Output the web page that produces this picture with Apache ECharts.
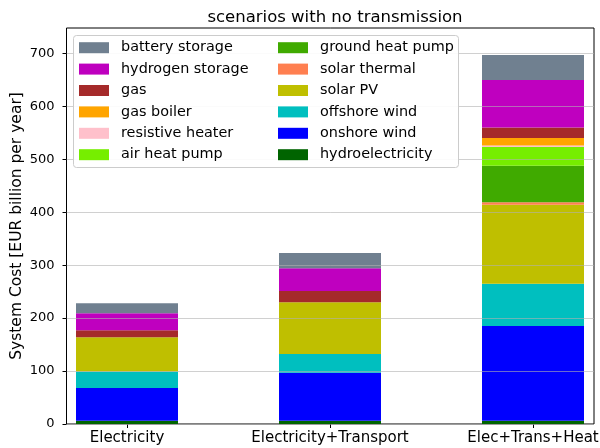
<!DOCTYPE html>
<html>
<head>
<meta charset="utf-8">
<script src="https://cdn.jsdelivr.net/npm/echarts@6/dist/echarts.min.js"></script>
<style>html,body{margin:0;padding:0;background:#fff}#c{width:600px;height:448px}</style>
</head>
<body>
<div id="c"></div>
<script>
var categories = ['Electricity', 'Electricity+Transport', 'Elec+Trans+Heat'];
var hydroelectricity = [6, 6, 6];
var onshoreWind = [62, 91, 179];
var offshoreWind = [31, 35, 80];
var solarPV = [65, 98, 149];
var solarThermal = [0, 0, 5];
var groundHeatPump = [0, 0, 69];
var airHeatPump = [0, 0, 35];
var resistiveHeater = [0, 0, 3];
var gasBoiler = [0, 0, 14];
var gas = [13, 21, 20];
var hydrogenStorage = [32, 43, 90];
var batteryStorage = [19, 29, 47];
var yTicks = [0, 100, 200, 300, 400, 500, 600, 700];

var seriesDefs = [
  ['hydroelectricity', hydroelectricity, '#006400'],
  ['onshore wind', onshoreWind, '#0000ff'],
  ['offshore wind', offshoreWind, '#00bfbf'],
  ['solar PV', solarPV, '#bfbf00'],
  ['solar thermal', solarThermal, '#ff7f50'],
  ['ground heat pump', groundHeatPump, '#40aa00'],
  ['air heat pump', airHeatPump, '#76ee00'],
  ['resistive heater', resistiveHeater, '#ffc0cb'],
  ['gas boiler', gasBoiler, '#ffa500'],
  ['gas', gas, '#a52a2a'],
  ['hydrogen storage', hydrogenStorage, '#bf00bf'],
  ['battery storage', batteryStorage, '#708090']
];
var legend1 = ['battery storage', 'hydrogen storage', 'gas', 'gas boiler', 'resistive heater', 'air heat pump'];
var legend2 = ['ground heat pump', 'solar thermal', 'solar PV', 'offshore wind', 'onshore wind', 'hydroelectricity'];

var FONT = 'DejaVu Sans';
var YMAX = 748;
var series = seriesDefs.map(function (d) {
  return {
    name: d[0], type: 'bar', stack: 'total', barWidth: 102,
    xAxisIndex: 1, yAxisIndex: 1,
    itemStyle: { color: d[2] },
    data: d[1]
  };
});

var legendCommon = {
  orient: 'vertical', top: 40.5, itemWidth: 30, itemHeight: 11, itemGap: 7,
  padding: 0, icon: 'rect', z: 20, selectedMode: false,
  textStyle: { fontFamily: FONT, fontSize: 14.4, color: '#000', padding: [0, 0, 0, 7], lineHeight: 14.4 }
};

var chart = echarts.init(document.getElementById('c'), null, { renderer: 'canvas' });
chart.setOption({
  animation: false,
  backgroundColor: '#fff',
  title: {
    text: 'scenarios with no transmission', left: 330, top: 4, textAlign: 'center',
    textStyle: { fontFamily: FONT, fontSize: 16.5, fontWeight: 'normal', color: '#000' }
  },
  grid: [
    { left: 66.5, right: 6, top: 28, bottom: 24, show: true, borderColor: '#000', borderWidth: 1, containLabel: false, outerBoundsMode: 'none' },
    { left: 25.5, width: 609, top: 28, bottom: 24, containLabel: false, outerBoundsMode: 'none' }
  ],
  legend: [
    Object.assign({}, legendCommon, { left: 79, data: legend1 }),
    Object.assign({}, legendCommon, { left: 278, data: legend2 })
  ],
  graphic: [{
    type: 'rect', z: 15,
    shape: { x: 73.5, y: 35.5, width: 385, height: 132, r: 3 },
    style: { fill: 'rgba(255,255,255,0.9)', stroke: '#cccccc', lineWidth: 1 }
  }],
  xAxis: [
    { type: 'category', gridIndex: 0, data: categories, show: false },
    {
      type: 'category', gridIndex: 1, data: categories,
      axisLine: { show: false },
      splitLine: { show: false },
      axisTick: { show: true, alignWithLabel: true, length: 4, lineStyle: { color: '#000' } },
      axisLabel: { margin: 7, fontFamily: FONT, fontSize: 15, color: '#000', interval: 0 }
    }
  ],
  yAxis: [
    {
      type: 'value', gridIndex: 0, min: 0, max: YMAX, z: 5,
      name: 'System Cost [EUR billion per year]', nameLocation: 'middle', nameGap: 41.5,
      nameMoveOverlap: false,
      nameTextStyle: { fontFamily: FONT, fontSize: 15.5, color: '#000' },
      axisLine: { show: false },
      axisTick: { show: true, length: 4, lineStyle: { color: '#000' }, customValues: yTicks },
      axisLabel: { customValues: yTicks, margin: 12, fontFamily: FONT, fontSize: 13, color: '#000' },
      splitLine: { show: true, lineStyle: { color: 'rgba(176,176,176,0.6)', width: 1 } },
      interval: 100
    },
    { type: 'value', gridIndex: 1, min: 0, max: YMAX, show: false, splitLine: { show: false } }
  ],
  series: series
});
</script>
</body>
</html>
